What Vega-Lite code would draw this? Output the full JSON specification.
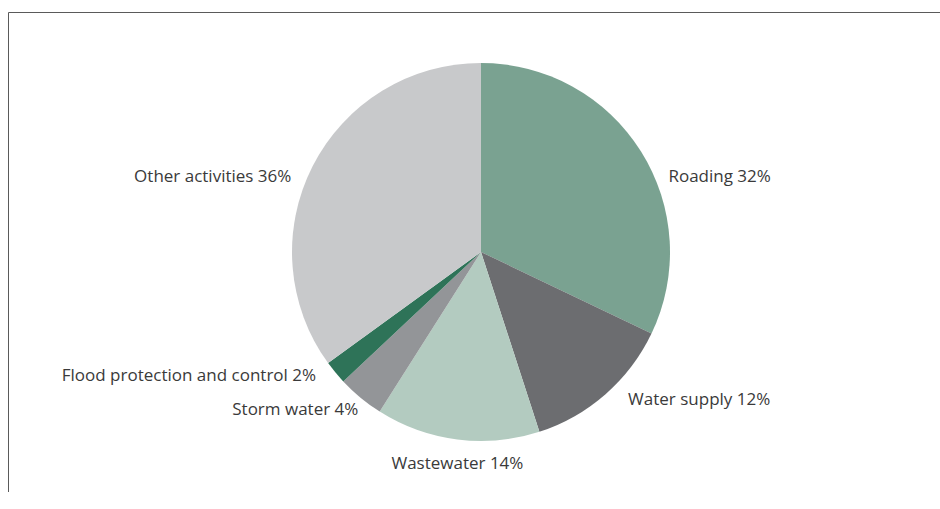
{
  "$schema": "https://vega.github.io/schema/vega-lite/v6.json",
  "width": 946,
  "height": 480,
  "autosize": "none",
  "padding": {"left": 8, "top": 12, "right": 0, "bottom": 0},
  "background": "white",
  "view": {"stroke": "#5a5a5a", "strokeWidth": 1, "strokeDash": [946, 1426, 480, 0]},
  "config": {
    "text": {"font": "Open Sans", "fontSize": 17, "color": "#3a3a3a", "baseline": "middle"}
  },
  "data": {
    "values": [
      {"category": "Roading", "share": 32.1, "shown": 32},
      {"category": "Water supply", "share": 12.9, "shown": 12},
      {"category": "Wastewater", "share": 14.0, "shown": 14},
      {"category": "Storm water", "share": 4.0, "shown": 4},
      {"category": "Flood protection and control", "share": 2.0, "shown": 2},
      {"category": "Other activities", "share": 35.0, "shown": 36}
    ]
  },
  "transform": [
    {"calculate": "indexof(['Roading','Water supply','Wastewater','Storm water','Flood protection and control','Other activities'], datum.category)", "as": "rank"},
    {"stack": "share", "groupby": [], "sort": [{"field": "rank"}], "as": ["start", "end"]},
    {"calculate": "(datum.start + datum.end) / 2", "as": "mid"},
    {"calculate": "datum.category + ' ' + datum.shown + '%'", "as": "label"}
  ],
  "layer": [
    {
      "mark": {"type": "arc", "outerRadius": 189},
      "encoding": {
        "theta": {"field": "start", "type": "quantitative", "scale": {"domain": [0, 100]}},
        "theta2": {"field": "end"},
        "color": {
          "field": "category",
          "type": "nominal",
          "scale": {
            "domain": ["Roading", "Water supply", "Wastewater", "Storm water", "Flood protection and control", "Other activities"],
            "range": ["#7aa291", "#6c6d70", "#b3cbc0", "#939598", "#2e7358", "#c8c9cb"]
          },
          "legend": null
        }
      }
    },
    {
      "transform": [{"filter": "datum.category === 'Roading'"}],
      "mark": {"type": "text", "align": "left", "radius": 205, "dx": 14, "dy": 34},
      "encoding": {"theta": {"field": "mid", "type": "quantitative"}, "text": {"field": "label"}}
    },
    {
      "transform": [{"filter": "datum.category === 'Water supply'"}],
      "mark": {"type": "text", "align": "left", "radius": 205, "dx": 12, "dy": -6},
      "encoding": {"theta": {"field": "mid", "type": "quantitative"}, "text": {"field": "label"}}
    },
    {
      "transform": [{"filter": "datum.category === 'Wastewater'"}],
      "mark": {"type": "text", "align": "center", "radius": 212, "dx": 3, "dy": 2},
      "encoding": {"theta": {"field": "mid", "type": "quantitative"}, "text": {"field": "label"}}
    },
    {
      "transform": [{"filter": "datum.category === 'Storm water'"}],
      "mark": {"type": "text", "align": "right", "radius": 205, "dx": 8},
      "encoding": {"theta": {"field": "mid", "type": "quantitative"}, "text": {"field": "label"}}
    },
    {
      "transform": [{"filter": "datum.category === 'Flood protection and control'"}],
      "mark": {"type": "text", "align": "right", "radius": 205, "dx": -7, "dy": -7},
      "encoding": {"theta": {"field": "mid", "type": "quantitative"}, "text": {"field": "label"}}
    },
    {
      "transform": [{"filter": "datum.category === 'Other activities'"}],
      "mark": {"type": "text", "align": "right", "radius": 205, "dx": -7, "dy": 18},
      "encoding": {"theta": {"field": "mid", "type": "quantitative"}, "text": {"field": "label"}}
    }
  ]
}
